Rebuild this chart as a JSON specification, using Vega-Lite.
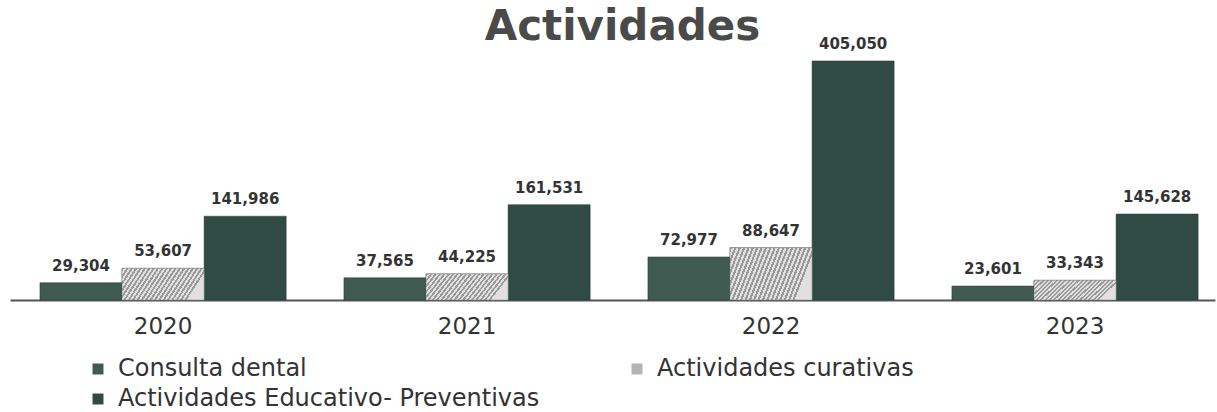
{
  "$schema": "https://vega.github.io/schema/vega-lite/v6.json",
  "width": 1205,
  "height": 242,
  "autosize": {"type": "none"},
  "padding": {"left": 10, "top": 58, "right": 2, "bottom": 112},
  "background": "white",
  "title": {"text": "Actividades", "fontSize": 42, "font": "DejaVu Sans", "fontWeight": "bold", "color": "#4a4a4a", "anchor": "middle", "dx": 10, "offset": -12},
  "data": {"values": [
    {"anio": "2020", "serie": "Consulta dental", "valor": 29304},
    {"anio": "2020", "serie": "Actividades curativas", "valor": 53607},
    {"anio": "2020", "serie": "Actividades Educativo- Preventivas", "valor": 141986},
    {"anio": "2021", "serie": "Consulta dental", "valor": 37565},
    {"anio": "2021", "serie": "Actividades curativas", "valor": 44225},
    {"anio": "2021", "serie": "Actividades Educativo- Preventivas", "valor": 161531},
    {"anio": "2022", "serie": "Consulta dental", "valor": 72977},
    {"anio": "2022", "serie": "Actividades curativas", "valor": 88647},
    {"anio": "2022", "serie": "Actividades Educativo- Preventivas", "valor": 405050},
    {"anio": "2023", "serie": "Consulta dental", "valor": 23601},
    {"anio": "2023", "serie": "Actividades curativas", "valor": 33343},
    {"anio": "2023", "serie": "Actividades Educativo- Preventivas", "valor": 145628}
  ]},
  "encoding": {
    "x": {"field": "anio", "type": "nominal", "title": null,
      "scale": {"paddingInner": 0.19, "paddingOuter": 0.077, "align": 0.64},
      "axis": {"labelAngle": 0, "labelFontSize": 23, "labelFont": "DejaVu Sans", "labelColor": "#333", "ticks": false, "domainColor": "#555", "domainWidth": 2, "labelPadding": 15, "grid": false}},
    "xOffset": {"field": "serie", "type": "nominal",
      "scale": {"domain": ["Consulta dental", "Actividades curativas", "Actividades Educativo- Preventivas"], "paddingInner": 0, "paddingOuter": 0}},
    "y": {"field": "valor", "type": "quantitative", "scale": {"domain": [0, 410000], "nice": false}, "axis": null}
  },
  "layer": [
    {
      "mark": {"type": "bar", "stroke": "#2a3a35", "strokeWidth": 0.5},
      "encoding": {
        "color": {"field": "serie", "type": "nominal", "title": null,
          "scale": {"domain": ["Consulta dental", "Actividades curativas", "Actividades Educativo- Preventivas"], "range": ["#3e5a51", "#b4b4b4", "#2f4b43"]},
          "legend": {"orient": "none", "legendX": 76, "legendY": 299, "columns": 2, "columnPadding": 85, "rowPadding": 6, "symbolType": "square", "symbolSize": 120, "symbolStrokeWidth": 0, "labelFontSize": 24, "labelFont": "DejaVu Sans", "labelColor": "#333", "labelLimit": 700, "labelOffset": 8,
            "values": ["Consulta dental", "Actividades Educativo- Preventivas", "Actividades curativas"]}}
      }
    },
    {
      "transform": [{"filter": "datum.serie === 'Actividades curativas'"}],
      "mark": {"type": "bar", "stroke": "#888", "strokeWidth": 0.5, "fill": {"gradient": "linear", "x1": 0, "y1": 0, "x2": 1, "y2": 0.25, "stops": [
        {"offset": 0, "color": "#999"}, {"offset": 0.025, "color": "#999"}, {"offset": 0.025, "color": "#e0e0e0"}, {"offset": 0.05, "color": "#e0e0e0"},
        {"offset": 0.05, "color": "#999"}, {"offset": 0.075, "color": "#999"}, {"offset": 0.075, "color": "#e0e0e0"}, {"offset": 0.1, "color": "#e0e0e0"},
        {"offset": 0.1, "color": "#999"}, {"offset": 0.125, "color": "#999"}, {"offset": 0.125, "color": "#e0e0e0"}, {"offset": 0.15, "color": "#e0e0e0"},
        {"offset": 0.15, "color": "#999"}, {"offset": 0.175, "color": "#999"}, {"offset": 0.175, "color": "#e0e0e0"}, {"offset": 0.2, "color": "#e0e0e0"},
        {"offset": 0.2, "color": "#999"}, {"offset": 0.225, "color": "#999"}, {"offset": 0.225, "color": "#e0e0e0"}, {"offset": 0.25, "color": "#e0e0e0"},
        {"offset": 0.25, "color": "#999"}, {"offset": 0.275, "color": "#999"}, {"offset": 0.275, "color": "#e0e0e0"}, {"offset": 0.3, "color": "#e0e0e0"},
        {"offset": 0.3, "color": "#999"}, {"offset": 0.325, "color": "#999"}, {"offset": 0.325, "color": "#e0e0e0"}, {"offset": 0.35, "color": "#e0e0e0"},
        {"offset": 0.35, "color": "#999"}, {"offset": 0.375, "color": "#999"}, {"offset": 0.375, "color": "#e0e0e0"}, {"offset": 0.4, "color": "#e0e0e0"},
        {"offset": 0.4, "color": "#999"}, {"offset": 0.425, "color": "#999"}, {"offset": 0.425, "color": "#e0e0e0"}, {"offset": 0.45, "color": "#e0e0e0"},
        {"offset": 0.45, "color": "#999"}, {"offset": 0.475, "color": "#999"}, {"offset": 0.475, "color": "#e0e0e0"}, {"offset": 0.5, "color": "#e0e0e0"},
        {"offset": 0.5, "color": "#999"}, {"offset": 0.525, "color": "#999"}, {"offset": 0.525, "color": "#e0e0e0"}, {"offset": 0.55, "color": "#e0e0e0"},
        {"offset": 0.55, "color": "#999"}, {"offset": 0.575, "color": "#999"}, {"offset": 0.575, "color": "#e0e0e0"}, {"offset": 0.6, "color": "#e0e0e0"},
        {"offset": 0.6, "color": "#999"}, {"offset": 0.625, "color": "#999"}, {"offset": 0.625, "color": "#e0e0e0"}, {"offset": 0.65, "color": "#e0e0e0"},
        {"offset": 0.65, "color": "#999"}, {"offset": 0.675, "color": "#999"}, {"offset": 0.675, "color": "#e0e0e0"}, {"offset": 0.7, "color": "#e0e0e0"},
        {"offset": 0.7, "color": "#999"}, {"offset": 0.725, "color": "#999"}, {"offset": 0.725, "color": "#e0e0e0"}, {"offset": 0.75, "color": "#e0e0e0"},
        {"offset": 0.75, "color": "#999"}, {"offset": 0.775, "color": "#999"}, {"offset": 0.775, "color": "#e0e0e0"}, {"offset": 0.8, "color": "#e0e0e0"},
        {"offset": 0.8, "color": "#999"}, {"offset": 0.825, "color": "#999"}, {"offset": 0.825, "color": "#e0e0e0"}, {"offset": 0.85, "color": "#e0e0e0"},
        {"offset": 0.85, "color": "#999"}, {"offset": 0.875, "color": "#999"}, {"offset": 0.875, "color": "#e0e0e0"}, {"offset": 0.9, "color": "#e0e0e0"},
        {"offset": 0.9, "color": "#999"}, {"offset": 0.925, "color": "#999"}, {"offset": 0.925, "color": "#e0e0e0"}, {"offset": 0.95, "color": "#e0e0e0"},
        {"offset": 0.95, "color": "#999"}, {"offset": 0.975, "color": "#999"}, {"offset": 0.975, "color": "#e0e0e0"}, {"offset": 1, "color": "#e0e0e0"}
      ]}}
    },
    {
      "mark": {"type": "text", "baseline": "bottom", "dy": -9, "font": "DejaVu Sans", "fontSize": 15, "fontWeight": "bold", "color": "#333"},
      "encoding": {"text": {"field": "valor", "type": "quantitative", "format": ",d"}}
    }
  ],
  "config": {"view": {"stroke": null}}
}
